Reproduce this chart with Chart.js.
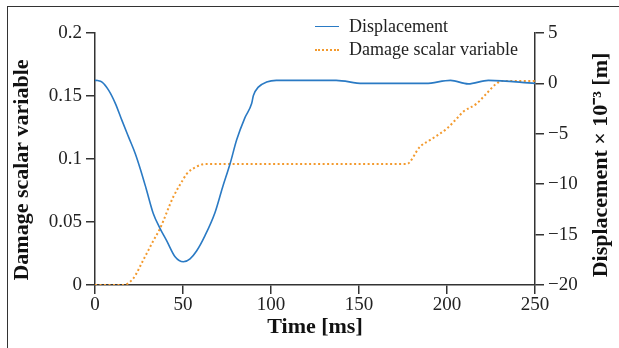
<!DOCTYPE html>
<html>
<head>
<meta charset="utf-8">
<script src="https://cdn.jsdelivr.net/npm/chart.js@4/dist/chart.umd.min.js"></script>
<style>
  html, body { margin: 0; padding: 0; background: #fff; }
  #wrap { position: relative; width: 619px; height: 348px; overflow: hidden; }
  #frame { position: absolute; left: 7px; top: 6px; right: -10px; bottom: -10px;
           border-left: 1.5px solid #333; border-top: 1.5px solid #333; pointer-events: none; }
  #legend { position: absolute; left: 315px; top: 15px; font-family: 'Liberation Serif', serif;
            font-size: 18px; color: #222; line-height: 23px; }
  #legend .item { display: flex; align-items: center; white-space: nowrap; }
  #legend .swatch { width: 24px; height: 0; margin-right: 10px; }
</style>
</head>
<body>
<div id="wrap">
  <canvas id="chart" width="619" height="348"></canvas>
  <div id="frame"></div>
  <div id="legend"></div>
</div>
<script>
// 데이터
const dispTime = [0, 1.5, 4, 7.8, 11.6, 15.3, 19.1, 22.9, 25.7, 29, 33.1, 37, 40.7, 45.5, 50.2, 54, 57.8, 62.5, 68.2, 72.5, 76.7, 80.5, 85.2, 89, 90, 92.8, 97.5, 103, 137, 152, 188, 202, 212, 223.5, 250];
const dispValues = [0.3, 0.28, 0.13, -0.69, -2.0, -3.67, -5.33, -6.97, -8.46, -10.4, -12.9, -14.4, -15.6, -17.2, -17.7, -17.4, -16.6, -15.1, -12.8, -10.3, -8.0, -5.6, -3.4, -2.0, -1.2, -0.37, 0.13, 0.3, 0.3, 0, 0, 0.3, -0.05, 0.3, 0];

const damageTime = [0, 16, 21.8, 27.5, 33.1, 37, 44.5, 50.2, 52, 57.8, 62.5, 177, 184.7, 190.3, 199.8, 205.5, 209.3, 216.9, 222.5, 228.2, 232, 250];
const damageValues = [0, 0, 0.0053, 0.02, 0.035, 0.045, 0.07, 0.084, 0.088, 0.094, 0.096, 0.096, 0.1098, 0.115, 0.124, 0.132, 0.1376, 0.144, 0.152, 0.160, 0.162, 0.162];

const timeTicks = [0, 50, 100, 150, 200, 250];
const damageTicks = [0, 0.05, 0.1, 0.15, 0.2];
const dispTicks = [-20, -15, -10, -5, 0, 5];

const leftTitle = 'Damage scalar variable';
const rightTitle = 'Displacement \u00d7 10\u207b\u00b3 [m]';

const axisColor = '#333';
const tickFont = { family: 'Liberation Serif', size: 19 };
const titleFont = { family: 'Liberation Serif', size: 22, weight: 'bold' };

const toPoints = (xs, ys) => xs.map((x, i) => ({ x: x, y: ys[i] }));
const fixTicks = list => scale => { scale.ticks = list.map(v => ({ value: v })); };
const fmt = v => String(v).replace('-', '\u2212');

const datasets = [
  {
    label: 'Displacement',
    data: toPoints(dispTime, dispValues),
    yAxisID: 'yDisp',
    borderColor: '#2a7ac4',
    borderWidth: 1.6,
    pointRadius: 0,
    cubicInterpolationMode: 'monotone',
    fill: false
  },
  {
    label: 'Damage scalar variable',
    data: toPoints(damageTime, damageValues),
    yAxisID: 'yDamage',
    borderColor: '#f39a2e',
    borderWidth: 2,
    borderDash: [2, 2.5],
    pointRadius: 0,
    cubicInterpolationMode: 'monotone',
    fill: false
  }
];

// 세로 축 제목 (아래에서 위로)
const sideTitles = {
  id: 'sideTitles',
  afterDraw(chart) {
    const c = chart.ctx;
    c.save();
    c.font = `bold ${titleFont.size}px ${titleFont.family}`;
    c.fillStyle = '#111';
    c.textAlign = 'center';
    c.textBaseline = 'middle';
    [[22, 170, leftTitle], [601, 165, rightTitle]].forEach(([x, y, t]) => {
      c.save();
      c.translate(x, y);
      c.rotate(-Math.PI / 2);
      c.fillText(t, 0, 0);
      c.restore();
    });
    c.restore();
  }
};

const gridOpts = { display: true, drawOnChartArea: false, drawTicks: true, tickLength: 9, color: axisColor, lineWidth: 1.5 };
const borderOpts = { display: true, color: axisColor, width: 1.5 };

new Chart(document.getElementById('chart').getContext('2d'), {
  type: 'line',
  data: { datasets: datasets },
  plugins: [sideTitles],
  options: {
    responsive: false,
    animation: false,
    layout: { padding: { top: 33, left: 0, right: 0, bottom: 0 } },
    plugins: { legend: { display: false }, tooltip: { enabled: false } },
    scales: {
      x: {
        type: 'linear', position: 'bottom', min: 0, max: 250,
        afterBuildTicks: fixTicks(timeTicks),
        afterFit: s => { s.height = 63; },
        grid: gridOpts, border: borderOpts,
        ticks: { color: '#222', font: tickFont, padding: 0, maxRotation: 0, callback: v => fmt(v) },
        title: { display: true, text: 'Time [ms]', color: '#111', font: titleFont, padding: { bottom: 7 } }
      },
      yDamage: {
        type: 'linear', position: 'left', min: 0, max: 0.2,
        afterBuildTicks: fixTicks(damageTicks),
        afterFit: s => { s.width = 95; },
        grid: gridOpts, border: borderOpts,
        ticks: { color: '#222', font: tickFont, padding: 4, callback: v => fmt(v) }
      },
      yDisp: {
        type: 'linear', position: 'right', min: -20, max: 5,
        afterBuildTicks: fixTicks(dispTicks),
        afterFit: s => { s.width = 84; },
        grid: gridOpts, border: borderOpts,
        ticks: { color: '#222', font: tickFont, padding: 4, callback: v => fmt(v) }
      }
    }
  }
});

// 범례 (HTML)
const legend = document.getElementById('legend');
datasets.forEach(ds => {
  const item = document.createElement('div');
  item.className = 'item';
  const sw = document.createElement('span');
  sw.className = 'swatch';
  sw.style.borderTop = ds.borderDash ? `2px dotted ${ds.borderColor}` : `1.6px solid ${ds.borderColor}`;
  const txt = document.createElement('span');
  txt.innerText = ds.label;
  item.appendChild(sw);
  item.appendChild(txt);
  legend.appendChild(item);
});
</script>
</body>
</html>
